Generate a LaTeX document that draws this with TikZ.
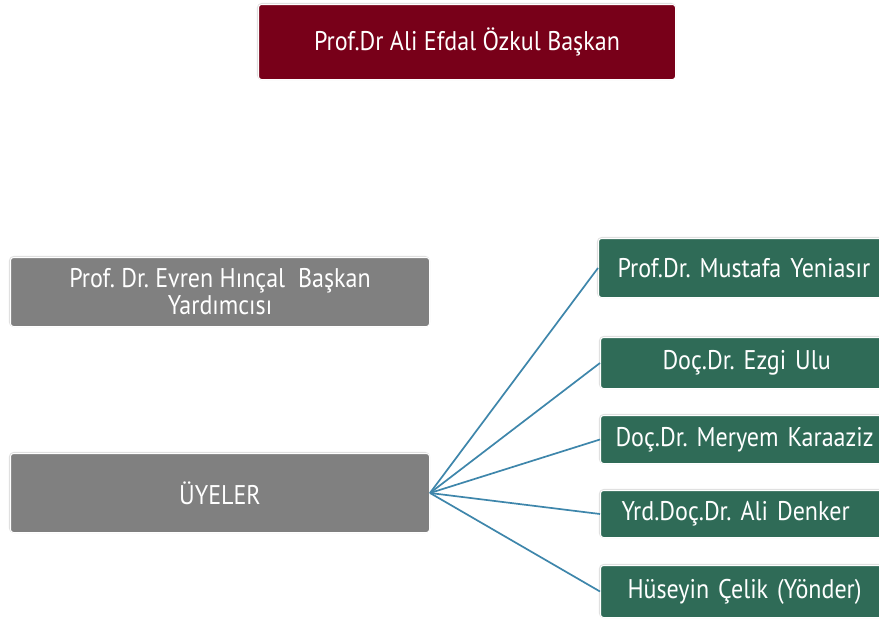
\documentclass[tikz,border=0pt]{standalone}
\usepackage{fontspec}
\setmainfont[FakeStretch=0.89]{PT Sans}
\definecolor{boss}{HTML}{780019}
\definecolor{grey}{HTML}{808080}
\definecolor{member}{HTML}{2F6B57}
\definecolor{link}{HTML}{3E86AB}
\begin{document}
\frenchspacing
\begin{tikzpicture}[x=1pt,y=-1pt,
  box/.style={draw=white, line width=1pt, rounded corners=3pt, text=white, inner sep=0pt,
     font=\fontsize{27}{27}\selectfont, align=center, anchor=north west},
  mbox/.style={box, fill=member, minimum width=300pt, text width=300pt, align=left},
  shadowbox/.style={draw=black!12, line width=2.2pt, rounded corners=4pt},
  link/.style={draw=link, line width=1.7pt}]
\useasboundingbox (0,0) rectangle (879,621);
\clip (0,0) rectangle (879,621);
\fill[white] (0,0) rectangle (879,621);
% shadows
\draw[shadowbox] (258,4) rectangle (675,79);
\draw[shadowbox] (10,257) rectangle (429,326);
\draw[shadowbox] (10,453) rectangle (429,532);
\draw[shadowbox] (598,238) rectangle (900,297);
\draw[shadowbox] (600,337) rectangle (900,388);
\draw[shadowbox] (600,415) rectangle (900,463);
\draw[shadowbox] (600,490) rectangle (900,537);
\draw[shadowbox] (600,565) rectangle (900,617);
% nodes
\node[box, fill=boss, minimum width=417pt, minimum height=75pt] (pres) at (258,4) {Prof.Dr Ali Efdal Özkul Başkan};
\node[box, fill=grey, minimum width=419pt, minimum height=69pt, font=\fontsize{27}{27}\selectfont] (vice) at (10,257) {Prof. Dr. Evren Hınçal\ \ Başkan\\Yardımcısı};
\node[box, fill=grey, minimum width=419pt, minimum height=79pt] (uye) at (10,453) {ÜYELER};
\node[mbox, minimum height=59pt, minimum width=302pt, text width=302pt] (m1) at (598,238) {\hspace*{19pt}Prof.Dr. Mustafa Yeniasır};
\node[mbox, minimum height=51pt] (m2) at (600,337) {\hspace*{62pt}Doç.Dr. Ezgi Ulu};
\node[mbox, minimum height=48pt] (m3) at (600,415) {\hspace*{15pt}Doç.Dr. Meryem Karaaziz};
\node[mbox, minimum height=47pt] (m4) at (600,490) {\hspace*{21pt}Yrd.Doç.Dr. Ali Denker};
\node[mbox, minimum height=52pt] (m5) at (600,565) {\hspace*{27pt}Hüseyin Çelik (Yönder)};
% connectors
\foreach \m in {m1,m2,m3,m4,m5}
  \draw[link] (uye.east) -- (\m.west);
\end{tikzpicture}
\end{document}
